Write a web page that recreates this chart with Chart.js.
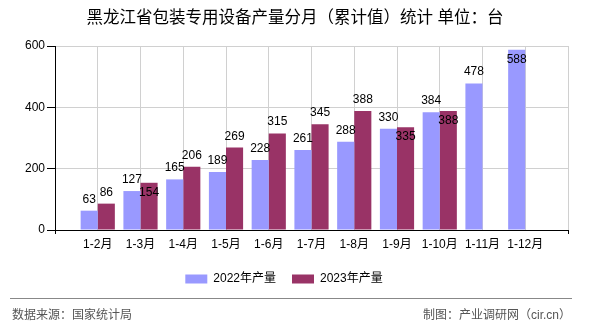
<!DOCTYPE html>
<html>
<head>
<meta charset="utf-8">
<script src="https://cdn.jsdelivr.net/npm/chart.js@4/dist/chart.umd.min.js"></script>
<style>
  html, body { margin: 0; padding: 0; background: #fff; }
  #myChart { display: block; }
</style>
</head>
<body>
<canvas id="myChart" width="590" height="330" style="width:590px;height:330px"></canvas>
<script>
const titleText = '黑龙江省包装专用设备产量分月（累计值）统计 单位：台'
const sourceText = '数据来源：国家统计局'
const makerText = '制图：产业调研网（cir.cn）'

const months = ['1-2月', '1-3月', '1-4月', '1-5月', '1-6月', '1-7月', '1-8月', '1-9月', '1-10月', '1-11月', '1-12月']
const output2022 = [63, 127, 165, 189, 228, 261, 288, 330, 384, 478, 588]
const output2023 = [86, 154, 206, 269, 315, 345, 388, 335, 388, null, null]
const yTicks = [0, 200, 400, 600]

const fontStack = '"Liberation Sans", "Noto Sans CJK SC", sans-serif'

// empty slot at both ends, the axis starts and ends half a step outside the bars
const labels = ['', ...months, '']
const pad = (arr) => [null, ...arr, null]

// value labels, put inside the bar when they would hit the other one
const valueLabels = {
  id: 'valueLabels',
  afterDatasetsDraw(chart) {
    const ctx = chart.ctx
    const top = chart.chartArea.top
    const m0 = chart.getDatasetMeta(0)
    const m1 = chart.getDatasetMeta(1)
    const d0 = chart.data.datasets[0].data
    ctx.save()
    ctx.font = '12px ' + fontStack
    ctx.fillStyle = '#000'
    ctx.textAlign = 'center'
    ctx.textBaseline = 'alphabetic'
    chart.data.datasets.forEach((ds, di) => {
      const meta = di === 0 ? m0 : m1
      meta.data.forEach((bar, i) => {
        const v = ds.data[i]
        if (v === null || v === undefined) return
        const w = ctx.measureText(String(v)).width
        let y = bar.y - 8
        let inside = y - 10 < top
        if (di === 1 && d0[i] !== null) {
          const other = m0.data[i]
          const ow = ctx.measureText(String(d0[i])).width
          const hit = Math.abs(bar.x - other.x) < (w + ow) / 2 + 2
          if (hit && Math.abs((other.y - 8) - y) < 12) inside = true
        }
        if (inside) y = bar.y + 13
        ctx.fillText(String(v), bar.x, y)
      })
    })
    ctx.restore()
  },
}

const frame = {
  id: 'frame',
  afterDraw(chart) {
    const ctx = chart.ctx
    ctx.save()
    ctx.fillStyle = '#000'
    ctx.font = '16.5px ' + fontStack
    ctx.textAlign = 'center'
    ctx.textBaseline = 'middle'
    ctx.fillText(titleText, 295, 18)

    ctx.strokeStyle = '#888'
    ctx.lineWidth = 1
    ctx.beginPath()
    ctx.moveTo(10, 298.5)
    ctx.lineTo(572, 298.5)
    ctx.stroke()

    ctx.fillStyle = '#555'
    ctx.font = '12px ' + fontStack
    ctx.textBaseline = 'middle'
    ctx.textAlign = 'left'
    ctx.fillText(sourceText, 12, 316)
    ctx.textAlign = 'right'
    ctx.fillText(makerText, 571, 316)
    ctx.restore()
  },
}

Chart.defaults.font.family = fontStack
Chart.defaults.font.size = 12
Chart.defaults.color = '#000'

const myChart = new Chart('myChart', {
  type: 'bar',
  data: {
    labels: labels,
    datasets: [
      {
        label: '2022年产量',
        data: pad(output2022),
        backgroundColor: '#9999FF',
        categoryPercentage: 0.8,
        barPercentage: 1,
      },
      {
        label: '2023年产量',
        data: pad(output2023),
        backgroundColor: '#993366',
        categoryPercentage: 0.8,
        barPercentage: 1,
      },
    ],
  },
  options: {
    responsive: false,
    animation: false,
    layout: { padding: { top: 46, right: 22, left: 0, bottom: 35 } },
    plugins: {
      title: { display: false },
      tooltip: { enabled: false },
      legend: {
        position: 'bottom',
        labels: { boxWidth: 22, boxHeight: 9, padding: 16, font: { size: 12 } },
      },
    },
    scales: {
      x: {
        offset: false,
        grid: {
          offset: false,
          color: (c) => (c.index === 0 ? 'transparent' : '#d0d0d0'),
          tickColor: (c) => (c.index === 0 || c.index === labels.length - 1 ? '#000' : 'transparent'),
          tickLength: 4,
        },
        border: { color: '#000', width: 1 },
        ticks: { padding: 3, maxRotation: 0, autoSkip: false },
        afterFit: (s) => { s.height = 27 },
      },
      y: {
        min: 0,
        max: 600,
        afterBuildTicks: (s) => { s.ticks = yTicks.map((v) => ({ value: v })) },
        grid: {
          color: (c) => (c.index === 0 ? 'transparent' : '#d0d0d0'),
          tickColor: '#000',
          tickLength: 8,
        },
        border: { color: '#000', width: 1 },
        ticks: { padding: 2 },
        afterFit: (s) => { s.width = 55 },
      },
    },
  },
  plugins: [valueLabels, frame],
})
</script>
</body>
</html>
